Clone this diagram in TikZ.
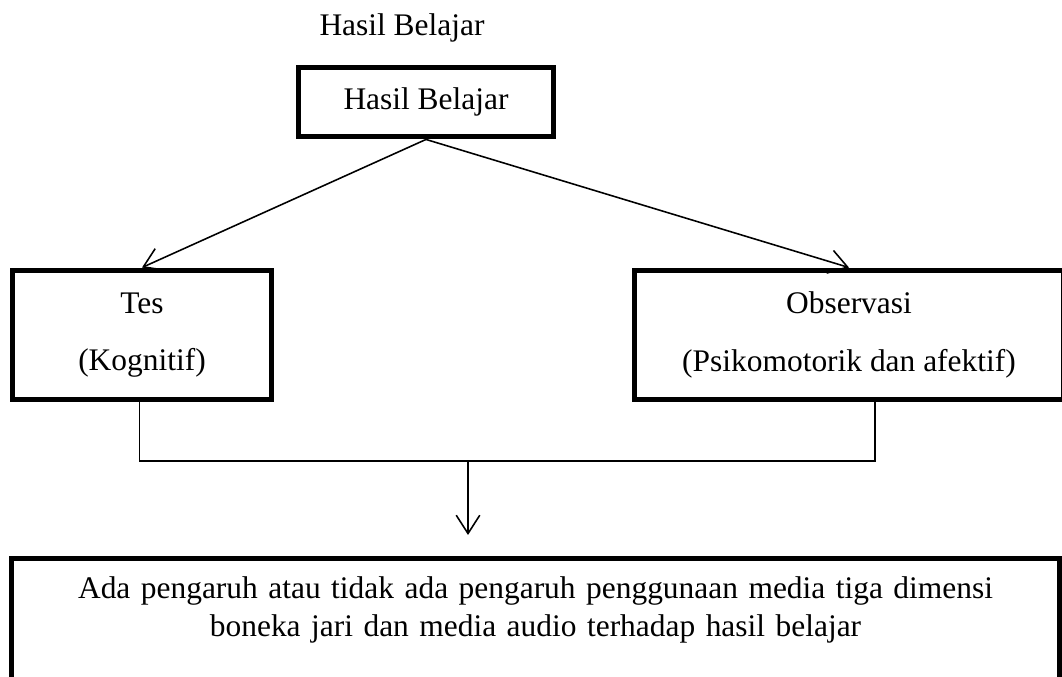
\documentclass[tikz,border=0pt]{standalone}
\usepackage{fontspec}
\setmainfont{Liberation Serif}
\usetikzlibrary{
  arrows.meta,
  positioning,
  calc
}
\tikzset{
  kotak/.style={
    draw,
    line width = 1.9pt,
    align = center,
    inner sep = 0pt,
    font = \fontsize{12}{22}\selectfont
  },
  garis/.style={
    line width = 0.6pt
  }
}

\begin{document}
\begin{tikzpicture}[>={Straight Barb[length=7pt,width=9pt]}, x=0.3817pt, y=-0.3817pt]
    \useasboundingbox (0,0) rectangle (1062,677);

    \node[kotak, minimum width=97pt, minimum height=26.7pt] (hasil) at (426,102) {Hasil Belajar};
    \node[font=\fontsize{12}{14}\selectfont] (judul) at (402,28) {Hasil Belajar};
    \node[kotak, minimum width=99.2pt, minimum height=49.6pt] (tes) at (142,335) {Tes\\(Kognitif)};
    \node[kotak, minimum width=163.4pt, minimum height=49.6pt] (obs) at (849,335) {Observasi\\(Psikomotorik dan afektif)};
    \node[kotak, anchor=north, text width=392pt, inner xsep=4pt, inner ysep=7pt,
          font=\fontsize{12}{14.5}\selectfont] (hasilakhir) at (535.5,556)
      {Ada pengaruh atau tidak ada pengaruh penggunaan media tiga dimensi\\
       boneka jari dan media audio terhadap hasil belajar\\ \mbox{}\\ \mbox{}};

    \coordinate (gabung) at (468,461);
    \coordinate (ujung) at (468,535);

    \path[->, garis]
    (hasil.south) edge (tes.north)
                  edge (obs.north)
    (gabung) edge (ujung);

    \draw[garis] ([xshift=-1pt]tes.south) |- (gabung) -| ([xshift=10pt]obs.south);
\end{tikzpicture}
\end{document}
